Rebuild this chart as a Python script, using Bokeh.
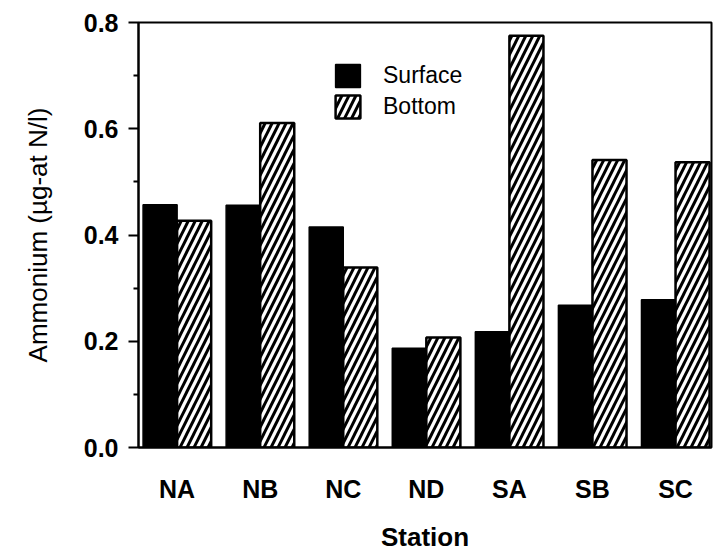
from bokeh.plotting import figure
from bokeh.models import (ColumnDataSource, Range1d, FixedTicker, Legend, LegendItem)
from bokeh.embed import file_html
from bokeh.resources import INLINE

stations = ["NA", "NB", "NC", "ND", "SA", "SB", "SC"]
surface = [0.457, 0.456, 0.415, 0.187, 0.218, 0.268, 0.278]
bottom = [0.427, 0.611, 0.339, 0.207, 0.775, 0.541, 0.537]
y_ticks = [0.0, 0.2, 0.4, 0.6, 0.8]
y_tick_labels = ["0.0", "0.2", "0.4", "0.6", "0.8"]
y_minor = [0.1, 0.3, 0.5, 0.7]

FONT = "Liberation Sans"
idx = list(range(len(stations)))
bar_w = 0.41

src = ColumnDataSource(dict(
    x=idx, station=stations, surface=surface, bottom=bottom,
    xs=[i - bar_w / 2 for i in idx], xb=[i + bar_w / 2 for i in idx],
))

p = figure(width=713, height=554, output_backend="svg", toolbar_location=None,
           x_range=Range1d(-0.465, 6.433), y_range=Range1d(0, 0.8),
           min_border_left=138, min_border_right=2, min_border_top=22,
           min_border_bottom=104)

r1 = p.vbar(x="xs", top="surface", bottom=0, width=bar_w, source=src,
            fill_color="black", line_color="black", line_width=1.5)
r2 = p.vbar(x="xb", top="bottom", bottom=0, width=bar_w, source=src,
            fill_color="white", line_color="black", line_width=2.5,
            hatch_pattern="/", hatch_color="black", hatch_scale=14, hatch_weight=3)

p.xgrid.visible = False
p.ygrid.visible = False
p.outline_line_color = "black"
p.outline_line_width = 2
p.background_fill_color = "white"
p.border_fill_color = "white"

# y axis
ya = p.yaxis[0]
ya.ticker = FixedTicker(ticks=y_ticks, minor_ticks=y_minor)
ya.major_label_overrides = {t: l for t, l in zip(y_ticks, y_tick_labels)}
ya.axis_label = "Ammonium (µg-at N/l)"
ya.axis_label_text_font = FONT
ya.axis_label_text_font_style = "normal"
ya.axis_label_text_font_size = "26px"
ya.axis_label_text_color = "black"
ya.axis_label_standoff = 28
ya.major_label_text_font = FONT
ya.major_label_text_font_style = "bold"
ya.major_label_text_font_size = "25px"
ya.major_label_text_color = "black"
ya.major_label_standoff = 10
ya.axis_line_width = 2
ya.major_tick_line_width = 2
ya.major_tick_out = 10
ya.major_tick_in = 0
ya.minor_tick_line_width = 2
ya.minor_tick_out = 5
ya.minor_tick_in = 0

# x axis
xa = p.xaxis[0]
xa.ticker = FixedTicker(ticks=idx, minor_ticks=[])
xa.major_label_overrides = {i: s for i, s in zip(idx, stations)}
xa.axis_label = "Station"
xa.axis_label_text_font = FONT
xa.axis_label_text_font_style = "bold"
xa.axis_label_text_font_size = "26px"
xa.axis_label_text_color = "black"
xa.axis_label_standoff = 16
xa.major_label_text_font = FONT
xa.major_label_text_font_style = "bold"
xa.major_label_text_font_size = "25px"
xa.major_label_text_color = "black"
xa.major_label_standoff = 27
xa.axis_line_width = 2
xa.major_tick_out = 0
xa.major_tick_in = 0
xa.minor_tick_out = 0
xa.minor_tick_in = 0

legend = Legend(items=[LegendItem(label="Surface", renderers=[r1]),
                       LegendItem(label="Bottom", renderers=[r2])],
                location=(194, 326), glyph_width=31, glyph_height=29,
                label_standoff=20, spacing=2, padding=0, margin=0,
                label_height=29,
                border_line_alpha=0, background_fill_alpha=0,
                label_text_font=FONT, label_text_font_size="23px",
                label_text_color="black")
p.add_layout(legend)

open("out.html", "w").write(file_html(p, INLINE))
